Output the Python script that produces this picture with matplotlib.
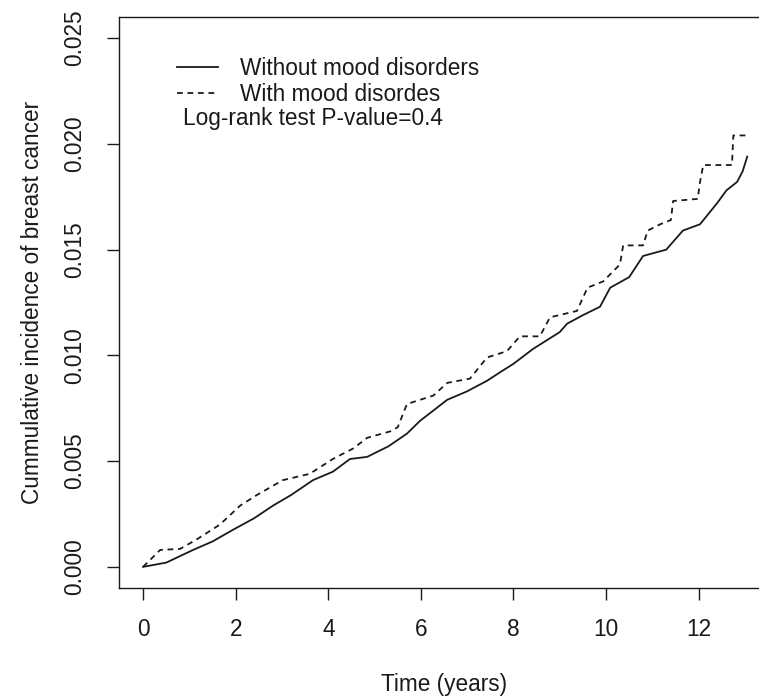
import matplotlib
matplotlib.use('Agg')
import matplotlib.pyplot as plt
from matplotlib.lines import Line2D

plt.rcParams['font.family'] = ['Liberation Sans', 'DejaVu Sans']

# Cumulative incidence
t_without = [0, 0.5, 1.08, 1.5, 1.94, 2.4, 2.81, 3.2, 3.67, 4.1, 4.47, 4.84, 5.3, 5.7,
             5.98, 6.57, 7.0, 7.43, 7.71, 8.0, 8.42, 9.0, 9.16, 9.5, 9.87, 10.09, 10.5,
             10.8, 11.3, 11.66, 12.03, 12.4, 12.6, 12.83, 12.95, 13.05]
ci_without = [0, 0.0002, 0.0008, 0.0012, 0.00175, 0.0023, 0.0029, 0.0034, 0.0041,
              0.0045, 0.0051, 0.0052, 0.0057, 0.0063, 0.0069, 0.0079, 0.0083, 0.0088,
              0.0092, 0.0096, 0.0103, 0.0111, 0.0115, 0.0119, 0.0123, 0.0132, 0.0137,
              0.0147, 0.0150, 0.0159, 0.0162, 0.0172, 0.0178, 0.0182, 0.0187, 0.0194]

t_with = [0, 0.37, 0.8, 1.16, 1.66, 2.1, 2.46, 3.02, 3.6, 4.1, 4.54, 4.84, 5.33, 5.5,
          5.7, 6.27, 6.57, 7.06, 7.43, 7.86, 8.14, 8.57, 8.79, 9.37, 9.6, 9.94, 10.3,
          10.37, 10.8, 10.9, 11.17, 11.4, 11.45, 11.98, 12.03, 12.1, 12.72, 12.75, 13.05]
ci_with = [0, 0.0008, 0.00085, 0.0013, 0.0020, 0.0029, 0.0034, 0.0041, 0.0044, 0.0051,
           0.0056, 0.0061, 0.0064, 0.0066, 0.0077, 0.0081, 0.0087, 0.0089, 0.0099,
           0.0102, 0.0109, 0.0109, 0.0118, 0.0121, 0.0132, 0.0135, 0.0143, 0.0152,
           0.0152, 0.0159, 0.0162, 0.0164, 0.0173, 0.0174, 0.0182, 0.0190, 0.0190,
           0.0204, 0.0204]

x_ticks = [0, 2, 4, 6, 8, 10, 12]
y_ticks = [0.000, 0.005, 0.010, 0.015, 0.020, 0.025]
y_tick_labels = ['0.000', '0.005', '0.010', '0.015', '0.020', '0.025']

FS = 16.3
col = '#1a1a1a'

fig = plt.figure(figsize=(7.59, 6.98), dpi=100)
ax = fig.add_axes([119 / 759, 110 / 698, 650 / 759, 571 / 698])

ax.plot(t_without, ci_without, color=col, lw=1.3, label='Without mood disorders')
ax.plot(t_with, ci_with, color=col, lw=1.3, dashes=(3.2, 2.6),
        label='With mood disordes')

ax.set_xlim(-0.52, 13.52)
ax.set_ylim(-0.001, 0.026)
ax.set_xticks(x_ticks)
ax.set_xticklabels([str(v) for v in x_ticks])
ax.set_yticks(y_ticks)
ax.set_yticklabels(y_tick_labels, rotation=90, va='center')
ax.tick_params(axis='both', length=8.6, width=1.0, color=col, labelsize=FS,
               labelcolor=col)
ax.tick_params(axis='x', pad=13)
ax.tick_params(axis='y', pad=15)
for s in ax.spines.values():
    s.set_linewidth(1.0)
    s.set_color(col)

ax.set_xlabel('Time (years)', fontsize=FS, color=col, labelpad=23)
ax.set_ylabel('Cummulative incidence of breast cancer', fontsize=FS, color=col,
              labelpad=14)

handles = [Line2D([], [], color=col, lw=1.3),
           Line2D([], [], color=col, lw=1.3, dashes=(3.2, 2.6))]
ax.legend(handles, ['Without mood disorders', 'With mood disordes'],
          loc='upper left', bbox_to_anchor=(0.089, 0.930), frameon=False,
          fontsize=FS, handlelength=1.8, handletextpad=1.0, labelspacing=0.14,
          borderpad=0, borderaxespad=0, labelcolor=col)
ax.text(0.0985, 0.823, 'Log-rank test P-value=0.4', transform=ax.transAxes,
        fontsize=FS, color=col, va='center', ha='left')

fig.savefig('out.png', dpi=100)
